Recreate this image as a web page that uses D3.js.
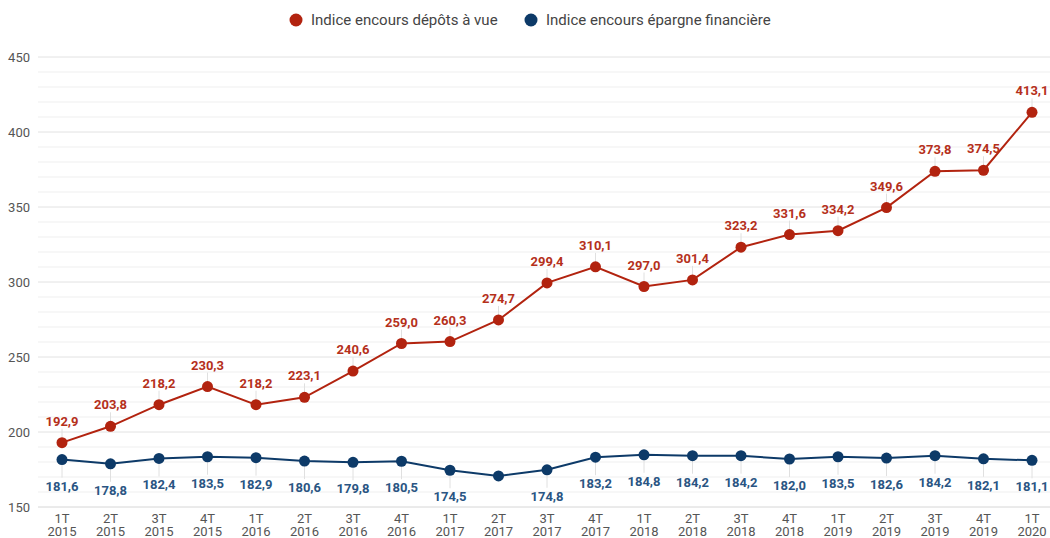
<!DOCTYPE html>
<html><head><meta charset="utf-8">
<script src="https://cdn.jsdelivr.net/npm/d3@7"></script>
<style>body{margin:0;background:#fff;font-family:Roboto,"Liberation Sans",Arial,sans-serif;}</style>
</head><body><svg id="c" width="1050" height="538"></svg>
<script>
const quarters = ["1T","2T","3T","4T","1T","2T","3T","4T","1T","2T","3T","4T","1T","2T","3T","4T","1T","2T","3T","4T","1T"];
const years = ["2015","2015","2015","2015","2016","2016","2016","2016","2017","2017","2017","2017","2018","2018","2018","2018","2019","2019","2019","2019","2020"];
const depots = [192.9,203.8,218.2,230.3,218.2,223.1,240.6,259.0,260.3,274.7,299.4,310.1,297.0,301.4,323.2,331.6,334.2,349.6,373.8,374.5,413.1];
const epargne = [181.6,178.8,182.4,183.5,182.9,180.6,179.8,180.5,174.5,170.7,174.8,183.2,184.8,184.2,184.2,182.0,183.5,182.6,184.2,182.1,181.1];
const epargneShowLabel = [1,1,1,1,1,1,1,1,1,0,1,1,1,1,1,1,1,1,1,1,1];
const yTicks = [150,200,250,300,350,400,450];
const seriesNames = ["Indice encours dépôts à vue","Indice encours épargne financière"];

const svg = d3.select("#c");
const W = 1050;
const x = d3.scalePoint().domain(d3.range(quarters.length)).range([62, 1032]);
const y = d3.scaleLinear().domain([150,450]).range([507, 57]);
const fmt = v => d3.format(".1f")(v).replace(".", ",");
const red = "#b2230f", blue = "#0d3a68";

// grid
const g = svg.append("g");
g.selectAll("line.minor").data(d3.range(160,450,10).filter(v=>v%50!==0)).join("line")
  .attr("x1",38).attr("x2",W).attr("y1",d=>y(d)).attr("y2",d=>y(d))
  .attr("stroke","#efefef").attr("stroke-width",1);
g.selectAll("line.major").data(yTicks).join("line")
  .attr("x1",38).attr("x2",W).attr("y1",d=>y(d)).attr("y2",d=>y(d))
  .attr("stroke", d=> d===150 ? "#d6d6d6" : "#e2e2e2").attr("stroke-width",1);

// y axis labels
const ya = svg.append("g").attr("transform","translate(30,0)")
  .call(d3.axisLeft(y).tickValues(yTicks).tickSize(0).tickPadding(0));
ya.select(".domain").remove();
ya.selectAll("text").attr("font-size",13).attr("fill","#555").attr("font-family","Roboto,'Liberation Sans',Arial,sans-serif");

// x axis labels
const xa = svg.append("g");
const xt = xa.selectAll("text").data(quarters).join("text")
  .attr("text-anchor","middle").attr("font-size",13).attr("fill","#555");
xt.append("tspan").attr("x",(d,i)=>x(i)).attr("y",523).text(d=>d);
xt.append("tspan").attr("x",(d,i)=>x(i)).attr("y",536).text((d,i)=>years[i]);

// leader lines
const lg = svg.append("g");
depots.forEach((v,i)=>{
  lg.append("line").attr("x1",x(i)).attr("x2",x(i)).attr("y1",y(v)-5).attr("y2",y(v)-14).attr("stroke","#e0e0e0");
});
epargne.forEach((v,i)=>{
  if(epargneShowLabel[i]) lg.append("line").attr("x1",x(i)).attr("x2",x(i)).attr("y1",y(v)+5).attr("y2",y(v)+18).attr("stroke","#e0e0e0");
});

function drawSeries(data, color, labelColor, above, show){
  const line = d3.line().x((d,i)=>x(i)).y(d=>y(d));
  svg.append("path").datum(data).attr("d",line).attr("fill","none").attr("stroke",color).attr("stroke-width",2);
  svg.append("g").selectAll("circle").data(data).join("circle")
    .attr("cx",(d,i)=>x(i)).attr("cy",d=>y(d)).attr("r",5.5).attr("fill",color);
  const pts = data.map((v,i)=>({v,i})).filter(p=>!show || show[p.i]);
  svg.append("g").selectAll("text").data(pts).join("text")
    .attr("x",p=>x(p.i)).attr("y",p=> above ? y(p.v)-17 : y(p.v)+31)
    .attr("text-anchor","middle").attr("font-size",13).attr("font-weight","bold")
    .attr("fill",labelColor).text(p=>fmt(p.v));
}
drawSeries(depots, red, "#b5301b", true, null);
drawSeries(epargne, blue, "#2a5583", false, epargneShowLabel);

// legend
const leg = svg.append("g");
const items = [{n:seriesNames[0],c:red,x:296},{n:seriesNames[1],c:blue,x:531}];
items.forEach(it=>{
  leg.append("circle").attr("cx",it.x).attr("cy",20).attr("r",6.5).attr("fill",it.c);
  leg.append("text").attr("x",it.x+15).attr("y",25).attr("font-size",15).attr("fill","#444").text(it.n);
});
</script></body></html>
